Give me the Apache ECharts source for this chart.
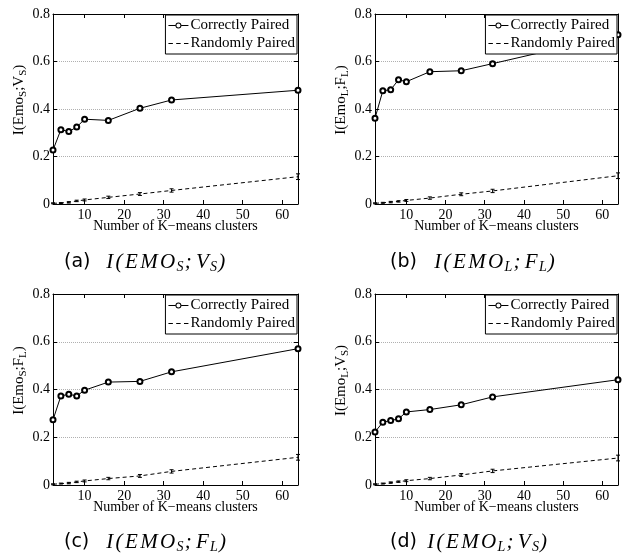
<!DOCTYPE html>
<html>
<head>
<meta charset="utf-8">
<script src="https://cdn.jsdelivr.net/npm/echarts@6/dist/echarts.min.js"></script>
<style>
  html, body { margin: 0; padding: 0; background: #fff; }
  #chart { width: 626px; height: 554px; }
</style>
</head>
<body>
<div id="chart"></div>
<script>
// x values: number of K-means clusters
var kClusters = [2, 4, 6, 8, 10, 16, 24, 32, 64];
var xTicks = [10, 20, 30, 40, 50, 60];

// (a) I(EMO_S;V_S)
var correctA = [0.227, 0.313, 0.305, 0.324, 0.357, 0.352, 0.403, 0.438, 0.479];
var randomA  = [0.003, 0.004, 0.007, 0.013, 0.017, 0.028, 0.042, 0.057, 0.115];
// (b) I(EMO_L;F_L)
var correctB = [0.361, 0.477, 0.481, 0.523, 0.515, 0.557, 0.561, 0.591, 0.713];
var randomB  = [0.003, 0.005, 0.008, 0.011, 0.015, 0.025, 0.041, 0.055, 0.119];
// (c) I(EMO_S;F_L)
var correctC = [0.273, 0.373, 0.380, 0.373, 0.397, 0.431, 0.434, 0.474, 0.571];
var randomC  = [0.003, 0.006, 0.008, 0.013, 0.017, 0.027, 0.038, 0.057, 0.116];
// (d) I(EMO_L;V_S)
var correctD = [0.222, 0.263, 0.270, 0.277, 0.306, 0.316, 0.336, 0.369, 0.441];
var randomD  = [0.003, 0.006, 0.010, 0.014, 0.018, 0.027, 0.042, 0.059, 0.113];
// half height of the error bars on the random curves
var randomErr = [0.002, 0.002, 0.003, 0.003, 0.004, 0.005, 0.006, 0.007, 0.012];

var yNames = [
  'I(Emo{s|S};V{s|S})',
  'I(Emo{s|L};F{s|L})',
  'I(Emo{s|S};F{s|L})',
  'I(Emo{s|L};V{s|S})'
];
var captionTags = ['(a)', '(b)', '(c)', '(d)'];
// [first subscript, second letter, second subscript]
var captionMath = [['S', 'V', 'S'], ['L', 'F', 'L'], ['S', 'F', 'L'], ['L', 'V', 'S']];
var correct = [correctA, correctB, correctC, correctD];
var random = [randomA, randomB, randomC, randomD];

var SERIF = '"Liberation Serif", "Times New Roman", serif';

var grids = [
  {left: 53, top: 14, width: 245, height: 190},
  {left: 375, top: 14, width: 243, height: 190},
  {left: 53, top: 294, width: 245, height: 191},
  {left: 375, top: 294, width: 243, height: 191}
];
var yNameGaps = [16, 23, 19, 21];
var captionPos = [
  {tag: 64, math: 105, y: 262},
  {tag: 390, math: 433, y: 262},
  {tag: 64, math: 105, y: 542},
  {tag: 390, math: 426, y: 542}
];

// legend glyphs: line with open circle, and three dashes
var ICON_CORRECT = 'path://M0,3h7v1h-7zM13,3h7v1h-7z' +
  'M13,3.5A3,3,0,1,1,7,3.5A3,3,0,1,1,13,3.5Z' +
  'M12,3.5A2,2,0,1,0,8,3.5A2,2,0,1,0,12,3.5Z';
var ICON_RANDOM = 'path://M0,0h4v1h-4zM7,0h4v1h-4zM14,0h4v1h-4z';

function zip(xs, ys) {
  return xs.map(function (x, j) { return [x, ys[j]]; });
}

function mathCaption(p) {
  function m(t) { return '{m|' + t + '}'; }
  return m('I') + m('(') + m('E') + m('M') + m('O') + '{s|' + p[0] + '}' +
    m(';') + '{sp| }' + m(p[1]) + '{s|' + p[2] + '}' + m(')');
}

function renderErr(params, api) {
  var x = api.value(0), y = api.value(1), e = api.value(2);
  var hi = api.coord([x, y + e]);
  var lo = api.coord([x, Math.max(0, y - e)]);
  var w = 2;
  var st = {stroke: '#000', lineWidth: 1};
  return {
    type: 'group',
    children: [
      {type: 'line', shape: {x1: hi[0], y1: hi[1], x2: lo[0], y2: lo[1]}, style: st},
      {type: 'line', shape: {x1: hi[0] - w, y1: hi[1], x2: hi[0] + w, y2: hi[1]}, style: st},
      {type: 'line', shape: {x1: lo[0] - w, y1: lo[1], x2: lo[0] + w, y2: lo[1]}, style: st}
    ]
  };
}

var xAxes = [], yAxes = [], series = [], legends = [], graphics = [];

grids.forEach(function (g, i) {
  var tick = {inside: true, length: 4, customValues: xTicks, lineStyle: {color: '#000'}};
  xAxes.push({
    gridIndex: i, type: 'value', min: 2, max: 64, position: 'bottom',
    axisLine: {show: true, onZero: false, lineStyle: {color: '#000', width: 1}},
    axisTick: tick,
    axisLabel: {customValues: xTicks, color: '#000', fontFamily: SERIF, fontSize: 14, margin: 4},
    splitLine: {show: false},
    name: 'Number of K\u2212means clusters', nameLocation: 'middle', nameGap: 15,
    nameMoveOverlap: false,
    nameTextStyle: {color: '#000', fontFamily: SERIF, fontSize: 14}
  });
  xAxes.push({
    gridIndex: i, type: 'value', min: 2, max: 64, position: 'top',
    axisLine: {show: true, onZero: false, lineStyle: {color: '#000', width: 1}},
    axisTick: tick,
    axisLabel: {show: false},
    splitLine: {show: false}
  });
  yAxes.push({
    gridIndex: i, type: 'value', min: 0, max: 0.8, interval: 0.2, position: 'left',
    axisLine: {show: true, onZero: false, lineStyle: {color: '#000', width: 1}},
    axisTick: {inside: true, length: 4, lineStyle: {color: '#000'}},
    axisLabel: {color: '#000', fontFamily: SERIF, fontSize: 14, margin: 3},
    splitLine: {show: true, showMinLine: false, showMaxLine: false,
      lineStyle: {color: '#b0b0b0', type: 'dotted', width: 1}},
    name: yNames[i], nameLocation: 'middle', nameGap: yNameGaps[i],
    nameTextStyle: {
      color: '#000', fontFamily: SERIF, fontSize: 15, lineHeight: 20,
      padding: [0, 0, 0, 18],
      rich: {s: {fontFamily: SERIF, fontSize: 11, lineHeight: 11, verticalAlign: 'bottom', color: '#000'}}
    }
  });
  yAxes.push({
    gridIndex: i, type: 'value', min: 0, max: 0.8, interval: 0.2, position: 'right',
    axisLine: {show: true, onZero: false, lineStyle: {color: '#000', width: 1}},
    axisTick: {inside: true, length: 4, lineStyle: {color: '#000'}},
    axisLabel: {show: false},
    splitLine: {show: false}
  });

  series.push({
    type: 'line', name: 'Correctly Paired',
    xAxisIndex: 2 * i, yAxisIndex: 2 * i,
    data: zip(kClusters, correct[i]),
    symbol: 'emptyCircle', symbolSize: 5,
    lineStyle: {color: '#000', width: 1},
    itemStyle: {color: '#000', borderWidth: 1}
  });
  series.push({
    type: 'line', name: 'Randomly Paired',
    xAxisIndex: 2 * i, yAxisIndex: 2 * i,
    data: zip(kClusters, random[i]),
    symbol: 'none',
    lineStyle: {color: '#000', width: 1, type: [4, 3]},
    itemStyle: {color: '#000'}
  });
  series.push({
    type: 'custom', name: 'err',
    xAxisIndex: 2 * i, yAxisIndex: 2 * i,
    renderItem: renderErr,
    data: kClusters.map(function (k, j) { return [k, random[i][j], randomErr[j]]; })
  });

  legends.push({
    data: [
      {name: 'Correctly Paired', icon: ICON_CORRECT},
      {name: 'Randomly Paired', icon: ICON_RANDOM}
    ],
    orient: 'vertical',
    right: 626 - (g.left + g.width) + 1,
    top: g.top + 1,
    backgroundColor: '#fff',
    borderColor: '#000', borderWidth: 1,
    padding: [3, 2, 3, 3],
    itemGap: 3, itemWidth: 20, itemHeight: 7,
    selectedMode: false,
    itemStyle: {color: '#000', borderWidth: 0},
    textStyle: {color: '#000', fontFamily: SERIF, fontSize: 15, padding: [0, 0, 0, -3]}
  });

  var cp = captionPos[i];
  graphics.push({
    type: 'text', x: cp.tag, y: cp.y,
    style: {text: captionTags[i], fill: '#000', font: '19px "DejaVu Sans", sans-serif', verticalAlign: 'middle'}
  });
  graphics.push({
    type: 'text', x: cp.math, y: cp.y,
    style: {
      text: mathCaption(captionMath[i]), fill: '#000', verticalAlign: 'middle',
      rich: {
        m: {fontFamily: SERIF, fontStyle: 'italic', fontSize: 21, lineHeight: 24, padding: [0, 1.2]},
        s: {fontFamily: SERIF, fontStyle: 'italic', fontSize: 14, lineHeight: 14, verticalAlign: 'bottom'},
        sp: {fontFamily: SERIF, fontSize: 8, lineHeight: 14}
      }
    }
  });
});

var chart = echarts.init(document.getElementById('chart'));
chart.setOption({
  animation: false,
  backgroundColor: '#fff',
  grid: grids,
  xAxis: xAxes,
  yAxis: yAxes,
  legend: legends,
  series: series,
  graphic: graphics
});
</script>
</body>
</html>
